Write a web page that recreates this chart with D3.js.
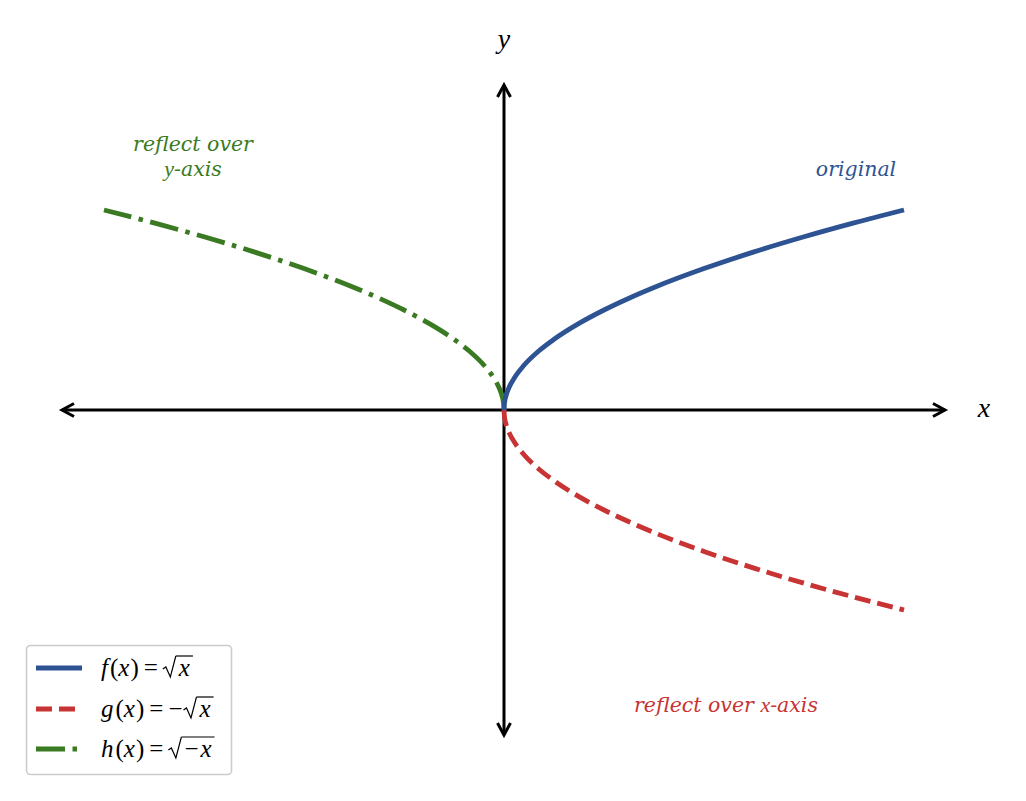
<!DOCTYPE html>
<html>
<head>
<meta charset="utf-8">
<script src="https://cdn.jsdelivr.net/npm/d3@7"></script>
<style>
  body { margin: 0; background: #fff; }
  text { font-family: "DejaVu Serif", serif; white-space: pre; }
  text.math, tspan.math { font-family: "Liberation Serif", "DejaVu Serif", serif; }
</style>
</head>
<body>
<script>
// sample points
var xVals = [0, 0.005, 0.02, 0.05, 0.1, 0.2, 0.35, 0.5, 0.75, 1, 1.25, 1.5, 2, 2.5, 3, 3.5, 4];
var fVals = [0, 0.071, 0.141, 0.224, 0.316, 0.447, 0.592, 0.707, 0.866, 1, 1.118, 1.225, 1.414, 1.581, 1.732, 1.871, 2];
var gVals = [0, -0.071, -0.141, -0.224, -0.316, -0.447, -0.592, -0.707, -0.866, -1, -1.118, -1.225, -1.414, -1.581, -1.732, -1.871, -2];
var hX = [0, -0.005, -0.02, -0.05, -0.1, -0.2, -0.35, -0.5, -0.75, -1, -1.25, -1.5, -2, -2.5, -3, -3.5, -4];
var hVals = [0, 0.071, 0.141, 0.224, 0.316, 0.447, 0.592, 0.707, 0.866, 1, 1.118, 1.225, 1.414, 1.581, 1.732, 1.871, 2];

var xAxisEnds = [-4.42, 4.41];
var yAxisEnds = [-3.25, 3.25];

var blue = "#2e5393", red = "#c83333", green = "#3a7a22";
var lw = 4.8;
var dashRed = "16,7", dashGreen = "29,7.5,4.5,7.5";

var width = 1026, height = 801;

var svg = d3.select("body").append("svg")
    .attr("width", width)
    .attr("height", height);

// set the ranges (100 px per unit, origin at 504,410)
var x = d3.scaleLinear().domain([-5, 5]).range([4, 1004]);
var y = d3.scaleLinear().domain([-4, 4]).range([810, 10]);

function zip(a, b) { return a.map(function(v, i) { return [v, b[i]]; }); }

var line = d3.line()
    .x(function(d) { return x(d[0]); })
    .y(function(d) { return y(d[1]); })
    .curve(d3.curveMonotoneX);

// axes with open arrow heads
var axisG = svg.append("g").attr("stroke", "#000").attr("stroke-width", 3).attr("fill", "none");
axisG.append("line")
    .attr("x1", x(xAxisEnds[0])).attr("x2", x(xAxisEnds[1]))
    .attr("y1", y(0)).attr("y2", y(0));
axisG.append("line")
    .attr("x1", x(0)).attr("x2", x(0))
    .attr("y1", y(yAxisEnds[0])).attr("y2", y(yAxisEnds[1]));

function arrowHead(px, py, dx, dy) {
  var s = 12, w = 6.5;
  var nx = -dy, ny = dx;
  axisG.append("path")
    .attr("stroke-linejoin", "miter")
    .attr("d", "M" + (px - dx * s + nx * w) + "," + (py - dy * s + ny * w) +
               "L" + px + "," + py +
               "L" + (px - dx * s - nx * w) + "," + (py - dy * s - ny * w));
}
arrowHead(x(xAxisEnds[1]), y(0), 1, 0);
arrowHead(x(xAxisEnds[0]), y(0), -1, 0);
arrowHead(x(0), y(yAxisEnds[1]), 0, -1);
arrowHead(x(0), y(yAxisEnds[0]), 0, 1);

// curves
svg.append("path")
    .datum(zip(hX, hVals))
    .attr("d", line)
    .attr("fill", "none").attr("stroke", green).attr("stroke-width", lw)
    .attr("stroke-dasharray", dashGreen);

svg.append("path")
    .datum(zip(xVals, gVals))
    .attr("d", line)
    .attr("fill", "none").attr("stroke", red).attr("stroke-width", lw)
    .attr("stroke-dasharray", dashRed);

svg.append("path")
    .datum(zip(xVals, fVals))
    .attr("d", line)
    .attr("fill", "none").attr("stroke", blue).attr("stroke-width", lw);

// axis labels
svg.append("text").attr("class", "math")
    .attr("x", x(0)).attr("y", 48)
    .attr("text-anchor", "middle").attr("font-style", "italic").attr("font-size", 28)
    .text("y");
svg.append("text").attr("class", "math")
    .attr("x", 984).attr("y", y(0) + 7)
    .attr("text-anchor", "middle").attr("font-style", "italic").attr("font-size", 28)
    .text("x");

// annotations
var afs = 20.5;
svg.append("text")
    .attr("x", 856).attr("y", 176)
    .attr("text-anchor", "middle").attr("font-style", "italic").attr("font-size", afs)
    .attr("fill", blue).text("original");

var t1 = svg.append("text")
    .attr("text-anchor", "middle").attr("font-style", "italic").attr("font-size", afs)
    .attr("fill", green);
t1.append("tspan").attr("x", 193).attr("y", 151).text("reflect over");
var t1b = t1.append("tspan").attr("x", 193).attr("y", 176);
t1b.append("tspan").attr("class", "math").attr("font-size", 22).text("y");
t1b.append("tspan").text("-axis");

var t2 = svg.append("text")
    .attr("x", 726).attr("y", 712)
    .attr("text-anchor", "middle").attr("font-style", "italic").attr("font-size", afs)
    .attr("fill", red);
t2.append("tspan").text("reflect over ");
t2.append("tspan").attr("class", "math").attr("font-size", 22).text("x");
t2.append("tspan").text("-axis");

// legend
var legend = svg.append("g");
legend.append("rect")
    .attr("x", 26.5).attr("y", 645.5).attr("width", 205).attr("height", 129)
    .attr("rx", 4).attr("fill", "#fff").attr("stroke", "#cccccc").attr("stroke-width", 1.6);

var legendItems = [
  { name: "f", neg: false, radNeg: false, color: blue, dash: null, y: 668 },
  { name: "g", neg: true, radNeg: false, color: red, dash: dashRed, y: 709 },
  { name: "h", neg: false, radNeg: true, color: green, dash: dashGreen, y: 749 }
];

legendItems.forEach(function(d) {
  legend.append("line")
    .attr("x1", 36).attr("x2", 82).attr("y1", d.y).attr("y2", d.y)
    .attr("stroke", d.color).attr("stroke-width", lw)
    .attr("stroke-dasharray", d.dash);

  var fs = 25;
  var cx = 101;
  function piece(str, italic) {
    var t = legend.append("text").attr("class", "math")
        .attr("x", cx).attr("y", d.y + 8).attr("font-size", fs)
        .attr("font-style", italic ? "italic" : "normal")
        .text(str);
    cx += t.node().getComputedTextLength();
    return t;
  }
  piece(d.name, true); cx += 2;
  piece("(", false);
  piece("x", true); cx += 1;
  piece(")", false);
  cx += 5;
  piece("=", false);
  cx += 5;
  if (d.neg) { piece("\u2212", false); cx += 1; }

  // radical sign
  var rx = cx;
  var top = d.y - 12, bot = d.y + 9;
  legend.append("path")
    .attr("d", "M" + rx + "," + (d.y + 1) + "L" + (rx + 3) + "," + (d.y - 1) +
               "L" + (rx + 7.5) + "," + bot + "L" + (rx + 13) + "," + top)
    .attr("fill", "none").attr("stroke", "#000").attr("stroke-width", 1.2);
  cx = rx + 16;
  if (d.radNeg) { piece("\u2212", false); cx += 2; }
  piece("x", true);
  legend.append("line")
    .attr("x1", rx + 13).attr("x2", cx + 3).attr("y1", top).attr("y2", top)
    .attr("stroke", "#000").attr("stroke-width", 1.2);
});
</script>
</body>
</html>
